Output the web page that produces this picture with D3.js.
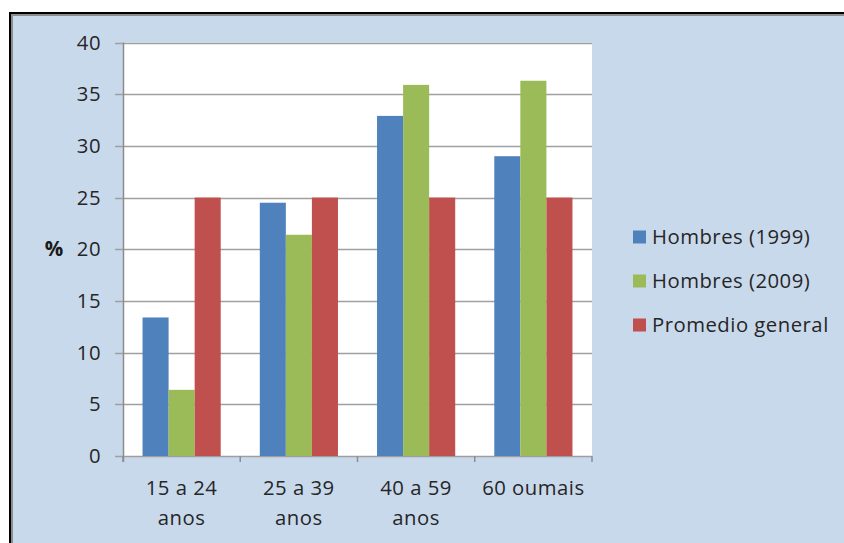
<!DOCTYPE html>
<html>
<head>
<meta charset="utf-8">
<script src="https://cdn.jsdelivr.net/npm/d3@7/dist/d3.min.js"></script>
<style>
  html, body { margin: 0; padding: 0; background: #ffffff; }
  svg { display: block; }
</style>
</head>
<body>
<svg id="chart" width="844" height="543"></svg>
<script>
// Age groups (each label split into lines)
const categories = [["15 a 24", "anos"], ["25 a 39", "anos"], ["40 a 59", "anos"], ["60 oumais"]];
const seriesNames = ["Hombres (1999)", "Hombres (2009)", "Promedio general"];
const hombres1999 = [13.4, 24.5, 32.9, 29.0];
const hombres2009 = [6.4, 21.4, 35.9, 36.3];
const promedio = [25, 25, 25, 25];
const yTicks = [0, 5, 10, 15, 20, 25, 30, 35, 40];
const colors = ["#4f81bd", "#9bbb59", "#c0504d"];

const font = "'Open Sans', 'Noto Sans', sans-serif";
const fontSize = 20.3;
const spacing = "0.5px";
const svg = d3.select("#chart");

// Frame and background
svg.append("rect").attr("x", 9).attr("y", 12).attr("width", 844).attr("height", 543)
  .attr("fill", "#c9d9ec");
svg.append("line").attr("x1", 10).attr("x2", 10).attr("y1", 12).attr("y2", 543)
  .attr("stroke", "#000").attr("stroke-width", 2);
svg.append("line").attr("x1", 12).attr("x2", 12).attr("y1", 14).attr("y2", 543)
  .attr("stroke", "#8c8c8c").attr("stroke-width", 2);
svg.append("line").attr("x1", 9).attr("x2", 844).attr("y1", 13).attr("y2", 13)
  .attr("stroke", "#000").attr("stroke-width", 2);
svg.append("line").attr("x1", 11).attr("x2", 844).attr("y1", 15).attr("y2", 15)
  .attr("stroke", "#8c8c8c").attr("stroke-width", 2);

const plot = { left: 123, right: 592, top: 42.5, bottom: 456 };

const x0 = d3.scaleBand().domain(d3.range(categories.length))
  .range([plot.left, plot.right]).paddingInner(0).paddingOuter(0);
const x1 = d3.scaleBand().domain(d3.range(seriesNames.length))
  .range([0, x0.bandwidth()]).paddingOuter(0.75).paddingInner(0);
const y = d3.scaleLinear().domain([0, 40]).range([plot.bottom, plot.top]);

// Plot area
svg.append("rect").attr("x", plot.left).attr("y", plot.top)
  .attr("width", plot.right - plot.left).attr("height", plot.bottom - plot.top)
  .attr("fill", "#ffffff");

// Gridlines
svg.append("g").selectAll("line").data(yTicks).join("line")
  .attr("x1", plot.left - 8).attr("x2", plot.right)
  .attr("y1", d => Math.round(y(d)) + 0.5).attr("y2", d => Math.round(y(d)) + 0.5)
  .attr("stroke", "#a0a0a0").attr("stroke-width", 1.6);

// Bars
const series = [hombres1999, hombres2009, promedio];
const groups = svg.append("g").selectAll("g").data(categories).join("g")
  .attr("transform", (d, i) => `translate(${x0(i)},0)`);
groups.selectAll("rect").data((d, i) => series.map((s, k) => ({ k, v: s[i] })))
  .join("rect")
  .attr("x", d => x1(d.k))
  .attr("y", d => y(d.v))
  .attr("width", x1.bandwidth())
  .attr("height", d => y(0) - y(d.v))
  .attr("fill", d => colors[d.k]);

// Y axis line
svg.append("line").attr("x1", plot.left + 0.5).attr("x2", plot.left + 0.5)
  .attr("y1", plot.top).attr("y2", plot.bottom + 6)
  .attr("stroke", "#8c8c8c").attr("stroke-width", 1.5);

// X axis ticks between categories
const catTicks = d3.range(categories.length + 1).map(i => plot.left + i * x0.bandwidth());
svg.append("g").selectAll("line").data(catTicks).join("line")
  .attr("x1", d => d).attr("x2", d => d)
  .attr("y1", plot.bottom).attr("y2", plot.bottom + 6)
  .attr("stroke", "#8c8c8c").attr("stroke-width", 1.5);

// Y tick labels
svg.append("g").selectAll("text").data(yTicks).join("text")
  .attr("x", 101).attr("y", d => y(d))
  .attr("dy", "0.35em").attr("text-anchor", "end")
  .attr("font-family", font).attr("font-size", fontSize).attr("letter-spacing", spacing)
  .attr("fill", "#262626")
  .text(d => d);

// Axis title
svg.append("text").attr("x", 54).attr("y", y(20)).attr("dy", "0.35em")
  .attr("text-anchor", "middle").attr("font-family", font).attr("font-weight", "bold")
  .attr("font-size", 20.5).attr("fill", "#1a1a1a").text("%");

// Category labels
const catLabels = svg.append("g").selectAll("text").data(categories).join("text")
  .attr("text-anchor", "middle").attr("font-family", font).attr("font-size", fontSize)
  .attr("letter-spacing", spacing).attr("fill", "#262626");
catLabels.selectAll("tspan").data((d, i) => d.map(t => ({ t, i }))).join("tspan")
  .attr("x", d => x0(d.i) + x0.bandwidth() / 2)
  .attr("y", (d, j) => 488 + j * 30)
  .attr("dy", "0.35em")
  .text(d => d.t);

// Legend
const legend = svg.append("g").selectAll("g").data(seriesNames).join("g")
  .attr("transform", (d, i) => `translate(633,${237 + i * 44})`);
legend.append("rect").attr("x", 0).attr("y", -6.5).attr("width", 13).attr("height", 13)
  .attr("fill", (d, i) => colors[i]);
legend.append("text").attr("x", 19).attr("y", 0).attr("dy", "0.35em")
  .attr("font-family", font).attr("font-size", fontSize).attr("letter-spacing", spacing)
  .attr("fill", "#262626")
  .text(d => d);
</script>
</body>
</html>
